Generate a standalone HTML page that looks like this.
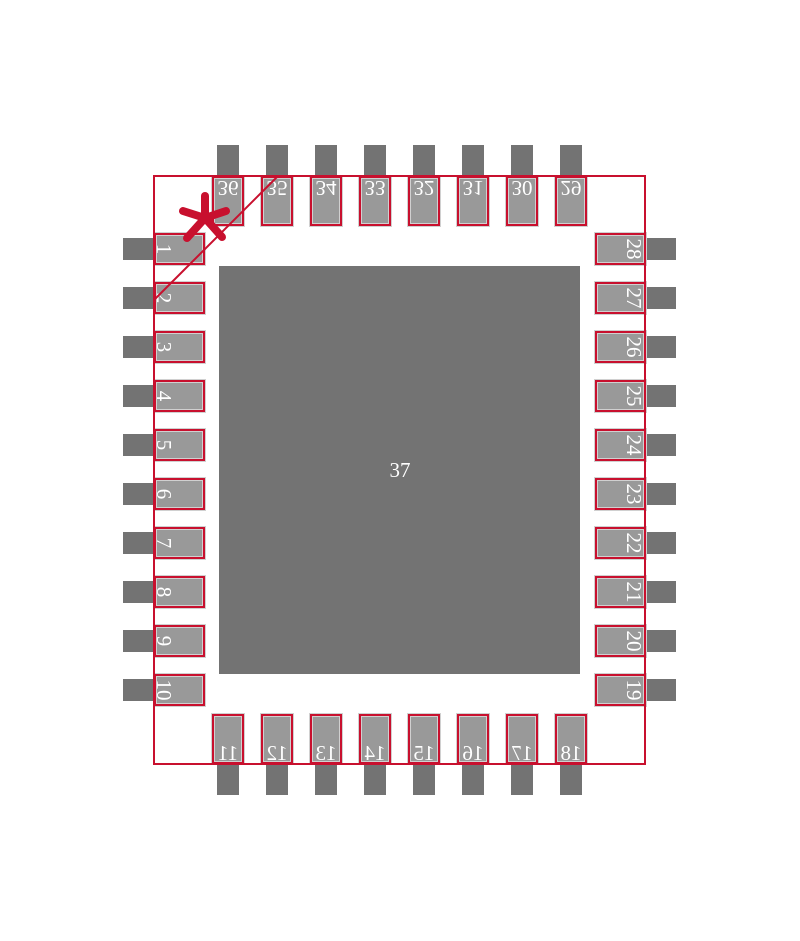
<!DOCTYPE html>
<html><head><style>body{margin:0;background:#fff}svg{display:block}</style></head><body>
<svg width="800" height="941" viewBox="0 0 800 941" xmlns="http://www.w3.org/2000/svg" font-family="Liberation Serif, serif" font-size="21" fill="#fff">
<defs>
<g id="L"><rect x="123" y="-11" width="32" height="22" fill="#737373"/><rect x="155" y="-15" width="49" height="30" fill="#999" stroke="#d0d0d0" stroke-width="4"/><rect x="155" y="-15" width="49" height="30" fill="none" stroke="#c8102e" stroke-width="2"/></g>
<g id="R"><rect x="644" y="-11" width="32" height="22" fill="#737373"/><rect x="596" y="-15" width="49" height="30" fill="#999" stroke="#d0d0d0" stroke-width="4"/><rect x="596" y="-15" width="49" height="30" fill="none" stroke="#c8102e" stroke-width="2"/></g>
<g id="T"><rect x="-11" y="145" width="22" height="32" fill="#737373"/><rect x="-15" y="177" width="30" height="48" fill="#999" stroke="#d0d0d0" stroke-width="4"/><rect x="-15" y="177" width="30" height="48" fill="none" stroke="#c8102e" stroke-width="2"/></g>
<g id="B"><rect x="-11" y="763" width="22" height="32" fill="#737373"/><rect x="-15" y="715" width="30" height="48" fill="#999" stroke="#d0d0d0" stroke-width="4"/><rect x="-15" y="715" width="30" height="48" fill="none" stroke="#c8102e" stroke-width="2"/></g>
</defs>
<rect x="219" y="266" width="361" height="408" fill="#737373"/>
<text x="400" y="477" text-anchor="middle">37</text>

<use href="#L" y="249"/><use href="#L" y="298"/><use href="#L" y="347"/><use href="#L" y="396"/><use href="#L" y="445"/><use href="#L" y="494"/><use href="#L" y="543"/><use href="#L" y="592"/><use href="#L" y="641"/><use href="#L" y="690"/>
<use href="#R" y="249"/><use href="#R" y="298"/><use href="#R" y="347"/><use href="#R" y="396"/><use href="#R" y="445"/><use href="#R" y="494"/><use href="#R" y="543"/><use href="#R" y="592"/><use href="#R" y="641"/><use href="#R" y="690"/>
<use href="#T" x="228"/><use href="#T" x="277"/><use href="#T" x="326"/><use href="#T" x="375"/><use href="#T" x="424"/><use href="#T" x="473"/><use href="#T" x="522"/><use href="#T" x="571"/>
<use href="#B" x="228"/><use href="#B" x="277"/><use href="#B" x="326"/><use href="#B" x="375"/><use href="#B" x="424"/><use href="#B" x="473"/><use href="#B" x="522"/><use href="#B" x="571"/>

<g text-anchor="middle" dominant-baseline="central">
<text transform="translate(164,249) rotate(90)">1</text>
<text transform="translate(164,298) rotate(90)">2</text>
<text transform="translate(164,347) rotate(90)">3</text>
<text transform="translate(164,396) rotate(90)">4</text>
<text transform="translate(164,445) rotate(90)">5</text>
<text transform="translate(164,494) rotate(90)">6</text>
<text transform="translate(164,543) rotate(90)">7</text>
<text transform="translate(164,592) rotate(90)">8</text>
<text transform="translate(164,641) rotate(90)">9</text>
<text transform="translate(164,690) rotate(90)">10</text>
<text transform="translate(634,249) rotate(90)">28</text>
<text transform="translate(634,298) rotate(90)">27</text>
<text transform="translate(634,347) rotate(90)">26</text>
<text transform="translate(634,396) rotate(90)">25</text>
<text transform="translate(634,445) rotate(90)">24</text>
<text transform="translate(634,494) rotate(90)">23</text>
<text transform="translate(634,543) rotate(90)">22</text>
<text transform="translate(634,592) rotate(90)">21</text>
<text transform="translate(634,641) rotate(90)">20</text>
<text transform="translate(634,690) rotate(90)">19</text>
<text transform="translate(228,188) scale(1,-1)">36</text>
<text transform="translate(277,188) scale(1,-1)">35</text>
<text transform="translate(326,188) scale(1,-1)">34</text>
<text transform="translate(375,188) scale(1,-1)">33</text>
<text transform="translate(424,188) scale(1,-1)">32</text>
<text transform="translate(473,188) scale(1,-1)">31</text>
<text transform="translate(522,188) scale(1,-1)">30</text>
<text transform="translate(571,188) scale(1,-1)">29</text>
<text transform="translate(228,753) scale(-1,1)">11</text>
<text transform="translate(277,753) scale(-1,1)">12</text>
<text transform="translate(326,753) scale(-1,1)">13</text>
<text transform="translate(375,753) scale(-1,1)">14</text>
<text transform="translate(424,753) scale(-1,1)">15</text>
<text transform="translate(473,753) scale(-1,1)">16</text>
<text transform="translate(522,753) scale(-1,1)">17</text>
<text transform="translate(571,753) scale(-1,1)">18</text>
</g>

<rect x="154" y="176" width="491" height="588" fill="none" stroke="#c8102e" stroke-width="2"/>
<line x1="278" y1="176" x2="154" y2="300" stroke="#c8102e" stroke-width="2"/>
<g stroke="#c8102e" stroke-width="8" stroke-linecap="round">
<line x1="205" y1="196" x2="205" y2="218"/><line x1="183" y1="211" x2="205" y2="218"/><line x1="226" y1="211" x2="205" y2="218"/><line x1="187" y1="238" x2="205" y2="218"/><line x1="222" y1="237" x2="205" y2="218"/>
</g>
</svg>
</body></html>
